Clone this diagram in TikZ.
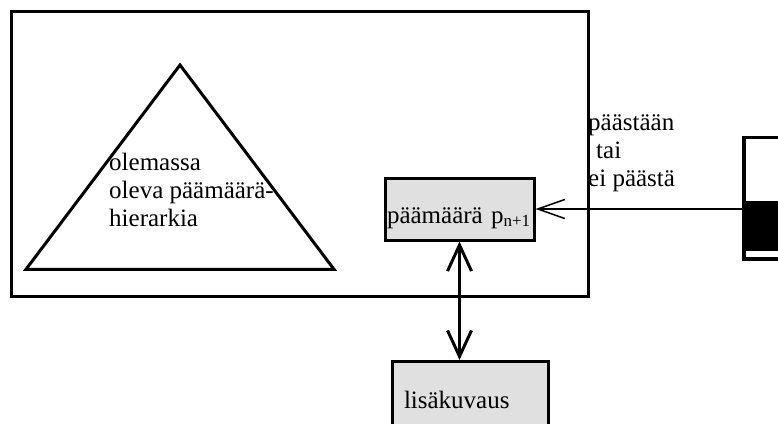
\documentclass[tikz,border=0pt]{standalone}
\usepackage{fontspec}
\setmainfont{Liberation Serif}
\usetikzlibrary{arrows.meta}
\definecolor{boxgray}{RGB}{224,224,224}
\begin{document}
\begin{tikzpicture}[x=1pt,y=-1pt,
  txt/.style={font=\fontsize{25}{28}\selectfont, inner sep=0pt},
  graybox/.style={draw, fill=boxgray, line width=3pt, inner sep=0pt, font=\fontsize{25}{28}\selectfont},
  frameline/.style={draw, line width=3pt, inner sep=0pt, outer sep=0pt}
]
\useasboundingbox (0,0) rectangle (778,423);
\clip (0,0) rectangle (778,423);
\fill[white] (0,0) rectangle (778,423);

% outer frame
\node[frameline, minimum width=576.5, minimum height=285.5] (frame) at (299.75,153.75) {};

% triangle
\draw[line width=3pt, line join=miter] (180,65) -- (334,269.3) -- (26,269.3) -- cycle;
\node[txt, anchor=base west, align=left] (hier) at (109,226.5) {olemassa\\oleva päämäärä-\\hierarkia};

% goal box
\node[graybox, minimum width=149, minimum height=62, text width=145, align=left,
      text height=28pt, text depth=0pt] (pbox) at (459.5,209)
  {päämäärä p\raisebox{-3.5pt}{\fontsize{17}{17}\selectfont n+1}};

% additional description box
\node[graybox, minimum width=156, minimum height=100, text width=132, align=left,
      inner xsep=12pt, text height=0pt, text depth=6pt, anchor=north] (lbox) at (470,360)
  {lisäkuvaus};

% gauge on the right
\node[frameline, line width=3.5pt, minimum width=80, minimum height=121.5] (gauge) at (784,198.25) {};
\fill[black] (742,201) rectangle (790,251);

% label
\node[txt, anchor=base west, align=left] (lab) at (588,186) {päästään\\\hspace*{8pt}tai\\ei päästä};

% connectors
\draw[line width=1.2pt, -{Straight Barb[length=27pt,width=19pt,line width=1.5pt]}]
  (gauge.west |- pbox.east) -- (pbox.east);
\draw[line width=3pt, {Straight Barb[length=26pt,width=24pt]}-{Straight Barb[length=26pt,width=24pt]}]
  (pbox.south) -- (pbox.south |- lbox.north);
\end{tikzpicture}
\end{document}
